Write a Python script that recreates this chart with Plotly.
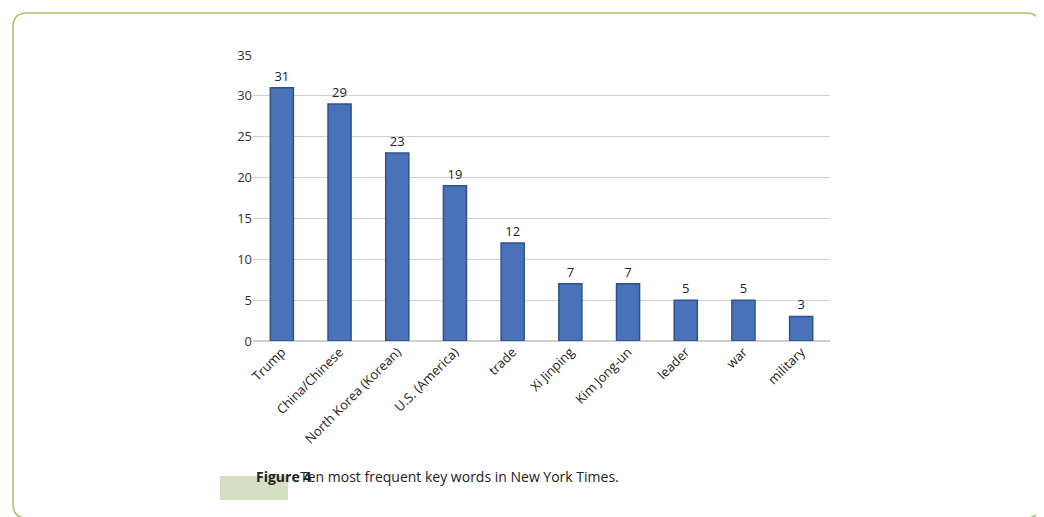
import plotly.graph_objs as go

keywords = ['Trump', 'China/Chinese', 'North Korea (Korean)', 'U.S. (America)', 'trade',
            'Xi Jinping', 'Kim Jong-un', 'leader', 'war', 'military']
counts = [31, 29, 23, 19, 12, 7, 7, 5, 5, 3]
y_ticks = [0, 5, 10, 15, 20, 25, 30, 35]

FONT = 'Open Sans, Liberation Sans, sans-serif'

fig = go.Figure(data=go.Bar(x=keywords, y=counts, width=0.4,
                            marker=dict(color='#4a72b8', line=dict(color='#2f528f', width=1.5)),
                            text=counts, textposition='outside', cliponaxis=False,
                            textfont=dict(family=FONT, size=13, color='#222')))

fig.update_layout(width=1044, height=517,
                  margin=dict(l=245, r=222, t=47, b=184),
                  paper_bgcolor='white', plot_bgcolor='white',
                  showlegend=False,
                  font=dict(family=FONT, size=13, color='#333'))
fig.update_xaxes(tickangle=-45, showline=False, ticks='', automargin=False,
                 tickfont=dict(size=13, color='#222'))
fig.update_yaxes(range=[0, 35], tickvals=y_ticks, showgrid=True, gridcolor='#d0d0d0',
                 zeroline=True, zerolinecolor='#d0d0d0', ticks='', automargin=False,
                 tickfont=dict(size=13, color='#333'))

# pixel -> domain coords of the plot area
pw, ph = 1044 - 245 - 222, 517 - 47 - 184
def dx(px): return (px - 245) / pw
def dy(py): return (517 - 184 - py) / ph

# rounded border around the figure
x0, y0, x1, y1, r = 5, 5, 1032, 510, 14
path = (f'M {dx(x0+r)},{dy(y0)} L {dx(x1-r)},{dy(y0)} Q {dx(x1)},{dy(y0)} {dx(x1)},{dy(y0+r)} '
        f'L {dx(x1)},{dy(y1-r)} Q {dx(x1)},{dy(y1)} {dx(x1-r)},{dy(y1)} L {dx(x0+r)},{dy(y1)} '
        f'Q {dx(x0)},{dy(y1)} {dx(x0)},{dy(y1-r)} L {dx(x0)},{dy(y0+r)} Q {dx(x0)},{dy(y0)} {dx(x0+r)},{dy(y0)} Z')
fig.add_shape(type='path', path=path, xref='paper', yref='paper',
              line=dict(color='#a6c46a', width=1.5))
fig.add_shape(type='rect', xref='paper', yref='paper',
              x0=dx(212), x1=dx(280), y0=dy(468), y1=dy(492),
              fillcolor='#d5e0c3', line=dict(width=0), layer='below')
fig.add_annotation(x=dx(246), y=dy(480), xref='paper', yref='paper', showarrow=False,
                   text='<b>Figure 4</b>', font=dict(family=FONT, size=14, color='#222'))
fig.add_annotation(x=dx(290), y=dy(480), xref='paper', yref='paper', showarrow=False,
                   xanchor='left', text='Ten most frequent key words in New York Times.',
                   font=dict(family=FONT, size=14, color='#222'))

fig.write_html("out.html")
